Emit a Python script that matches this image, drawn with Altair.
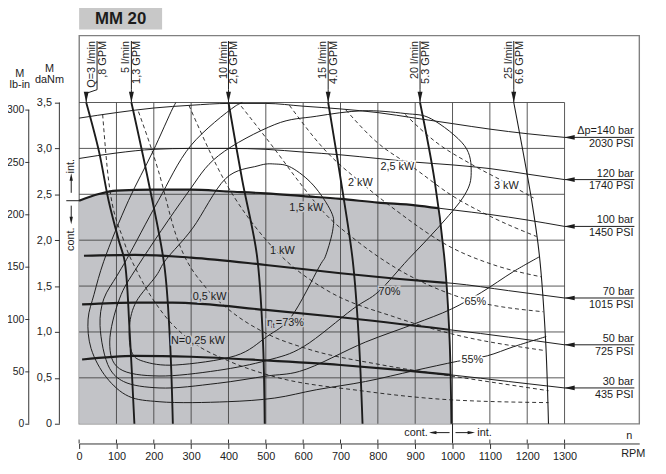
import altair as alt
import numpy as np
import pandas as pd

# ------------------------------------------------------------------ frame
RPM_MAX = 1500      # right edge of the outer frame
T_MAX = 4.23        # top edge of the outer frame (daNm)
LBIN_MAX = 371      # the same edge on the lb-in scale
W, H = 567, 393

RPM_TICKS = list(range(0, 1400, 100))
T_TICKS = [0, 0.5, 1.0, 1.5, 2.0, 2.5, 3.0, 3.5]
LBIN_TICKS = [0, 50, 100, 150, 200, 250, 300]
GRID_RPM = list(range(100, 1400, 100))
GRID_T = [0.5, 1.0, 1.5, 2.0, 2.5, 3.0, 3.5]
GRID_END_RPM = 1300
GRID_END_T = 3.5

# ------------------------------------------------------------------ pressure drop curves
P_TOP = ['Δp=140 bar', '120 bar', '100 bar', '70 bar', '50 bar', '30 bar']
P_BOTTOM = ['2030 PSI', '1740 PSI', '1450 PSI', '1015 PSI', '725 PSI', '435 PSI']
P140_RPM = [0, 100, 200, 300, 400, 500, 600, 700, 800, 900, 1000, 1100, 1200, 1300]
P140_T = [3.33, 3.39, 3.44, 3.47, 3.49, 3.49, 3.46, 3.43, 3.39, 3.33, 3.27, 3.21, 3.16, 3.12]
P120_RPM = [0, 100, 200, 300, 400, 500, 600, 700, 800, 900, 1000, 1100, 1200, 1300]
P120_T = [2.89, 2.95, 2.99, 3.00, 3.00, 2.99, 2.96, 2.93, 2.89, 2.85, 2.82, 2.78, 2.72, 2.66]
P100_RPM = [0, 50, 100, 200, 300, 400, 500, 600, 700, 800, 900, 1000, 1100, 1200, 1300]
P100_T = [2.43, 2.50, 2.54, 2.55, 2.55, 2.53, 2.51, 2.48, 2.45, 2.41, 2.38, 2.33, 2.28, 2.22, 2.15]
P70_RPM = [13, 150, 300, 500, 700, 850, 1000, 1150, 1300]
P70_T = [1.83, 1.84, 1.81, 1.73, 1.64, 1.58, 1.53, 1.45, 1.37]
P50_RPM = [8, 150, 250, 500, 700, 1000, 1300]
P50_T = [1.30, 1.32, 1.32, 1.24, 1.16, 1.02, 0.86]
P30_RPM = [8, 150, 300, 500, 700, 850, 1000, 1150, 1300]
P30_T = [0.70, 0.74, 0.73, 0.69, 0.64, 0.59, 0.53, 0.46, 0.39]
P_POINTER_RPM = [1300, 1487]

# ------------------------------------------------------------------ flow curves
Q_TOP = ['Q=3 l/min', '5 l/min', '10 l/min', '15 l/min', '20 l/min', '25 l/min']
Q_BOTTOM = [',8 GPM', '1,3 GPM', '2,6 GPM', '4.0 GPM', '5.3 GPM', '6.6 GPM']
Q_LABEL_RPM = [48, 140, 400, 667, 913, 1164]
Q_POINTER_T = [4.17, 3.64, 3.60, 3.5]
Q3_RPM = [19, 53, 79, 106, 122, 135, 148]
Q3_T = [3.5, 2.97, 2.43, 2.0, 1.77, 1.03, 0]
Q5_RPM = [140, 185, 228, 243, 251]
Q5_T = [3.5, 2.65, 1.73, 0.93, 0]
Q10_RPM = [400, 437, 476, 492, 497]
Q10_T = [3.5, 2.65, 1.84, 0.93, 0]
Q15_RPM = [667, 701, 733, 749, 759]
Q15_T = [3.5, 2.65, 1.77, 0.93, 0]
Q20_RPM = [913, 952, 979, 992, 997]
Q20_T = [3.5, 2.65, 1.77, 0.93, 0]
Q25_RPM = [1164, 1212, 1233, 1249, 1257]
Q25_T = [3.5, 2.43, 1.82, 0.93, 0]

# ------------------------------------------------------------------ power (dashed)
N025_RPM = [63, 79, 119, 159, 225, 304, 397, 516, 754, 997, 1257]
N025_T = [3.37, 2.65, 2.00, 1.63, 1.20, 0.89, 0.69, 0.52, 0.36, 0.26, 0.23]
N05_RPM = [159, 212, 259, 344, 399, 503, 608, 812, 997, 1257]
N05_T = [3.40, 2.76, 2.06, 1.46, 1.25, 0.98, 0.82, 0.64, 0.52, 0.36]
N1_RPM = [294, 392, 497, 556, 661, 847, 997, 1243]
N1_T = [3.47, 2.63, 2.02, 1.77, 1.46, 1.16, 0.98, 0.80]
N15_RPM = [434, 524, 590, 656, 741, 847, 997, 1243]
N15_T = [3.46, 2.99, 2.63, 2.30, 2.00, 1.70, 1.41, 1.22]
N2_RPM = [563, 661, 754, 847, 997, 1111, 1238]
N2_T = [3.47, 2.97, 2.63, 2.33, 1.92, 1.73, 1.60]
N25_RPM = [714, 794, 899, 997, 1111, 1225]
N25_T = [3.42, 3.08, 2.78, 2.49, 2.24, 2.04]
N3_RPM = [873, 952, 1058, 1146, 1217]
N3_T = [3.37, 3.08, 2.81, 2.62, 2.46]
N_LABELS = ['N=0,25 kW', '0,5 kW', '1 kW', '1,5 kW', '2 kW', '2,5 kW', '3 kW']
N_LABEL_RPM = [246, 304, 511, 563, 720, 807, 1111]
N_LABEL_T = [0.905, 1.378, 1.885, 2.348, 2.628, 2.80, 2.595]

# ------------------------------------------------------------------ efficiency
E73_RPM = [135, 140, 172, 259, 418, 503, 569, 643, 661, 680, 675, 627, 569, 524, 479, 392, 304, 233, 206, 153]
E73_T = [1.07, 0.79, 0.68, 0.64, 0.74, 0.95, 1.17, 1.71, 1.84, 2.13, 2.31, 2.60, 2.79, 2.83, 2.81, 2.67, 2.13, 1.79, 1.61, 1.33]
E70_RPM = [159, 108, 82, 108, 214, 370, 503, 601, 733, 802, 881, 960, 1032, 1050, 1032, 944, 873, 759, 635, 524, 373, 286]
E70_T = [1.73, 1.36, 0.89, 0.60, 0.52, 0.58, 0.69, 0.84, 1.25, 1.44, 1.79, 2.13, 2.49, 2.74, 3.03, 3.32, 3.38, 3.41, 3.35, 3.26, 2.92, 2.49]
E65_RPM = [1233, 1164, 1077, 997, 899, 767, 590, 503, 370, 214, 119, 82, 56, 66, 101, 127, 212, 299, 418, 437]
E65_T = [1.82, 1.66, 1.43, 1.25, 1.09, 0.89, 0.57, 0.52, 0.44, 0.39, 0.46, 0.60, 1.07, 1.36, 1.61, 1.79, 2.43, 3.03, 3.46, 3.50]
E55_RPM = [1251, 1164, 1093, 1013, 899, 767, 635, 524, 397, 214, 132, 74, 32, 24, 40, 66, 132, 198, 251, 259]
E55_T = [0.95, 0.84, 0.74, 0.68, 0.58, 0.46, 0.37, 0.28, 0.24, 0.24, 0.30, 0.50, 0.82, 1.14, 1.41, 1.77, 2.43, 2.97, 3.44, 3.50]
E_LABELS = ['70%', '65%', '55%']
E_LABEL_RPM = [802, 1032, 1024]
E_LABEL_T = [1.432, 1.325, 0.689]
E73_LABEL_RPM = 503
E73_LABEL_T = 1.098

CONT_RPM = 1000

INK = '#1c1c1c'
GRIDC = '#454545'
GREY = '#c2c3c7'
FONT = 'Liberation Sans'
X_AXIS_OFFSET = 20


def ys(t):  # plot pixels, used only to hang annotations on a data value
    return H - t * H / T_MAX


def frame(key, rpm, t):
    return pd.DataFrame({'key': key, 'rpm': list(rpm), 't': list(t), 'i': range(len(rpm))})


XS = alt.Scale(domain=[0, RPM_MAX], nice=False, zero=False)
YS = alt.Scale(domain=[0, T_MAX], nice=False, zero=False)
XAX = alt.Axis(values=RPM_TICKS, offset=X_AXIS_OFFSET, title=None, tickSize=5, labelPadding=2, format='d',
               labelFlush=False, labelOverlap=False)
YAX = alt.Axis(values=T_TICKS, orient='left', offset=20, title=None, domain=False, tickSize=5,
               labelPadding=3,
               labelExpr="datum.value == 0 ? '0' : replace(format(datum.value, '.1f'), '.', ',')")


def X(f='rpm'):
    return alt.X(f + ':Q', scale=XS, axis=XAX)


def Y(f='t'):
    return alt.Y(f + ':Q', scale=YS, axis=YAX)


def curves(df, width, interp, dash=None):
    props = dict(color=INK, strokeWidth=width, interpolate=interp)
    if dash:
        props['strokeDash'] = dash
    return alt.Chart(df).mark_line(**props).encode(x=X(), y=Y(), detail='key:N', order='i:Q')


# where a curve meets the 20 l/min line (edge of the continuous range)
Q20_T_UP, Q20_RPM_UP = Q20_T[::-1], Q20_RPM[::-1]


def edge_point(rpm, t):
    r = 950.0
    for _ in range(12):
        r = float(np.interp(np.interp(r, rpm, t), Q20_T_UP, Q20_RPM_UP))
    return r, float(np.interp(r, rpm, t))


def split(key, rpm, t):
    r, tt = edge_point(rpm, t)
    a = [(x, y) for x, y in zip(rpm, t) if x < r] + [(r, tt)]
    b = [(r, tt)] + [(x, y) for x, y in zip(rpm, t) if x > r]
    return frame(key, *zip(*a)), frame(key, *zip(*b))


# grey continuous-duty area
re_, te_ = edge_point(P100_RPM, P100_T)
area_pts = [(x, y) for x, y in zip(P100_RPM, P100_T) if x < re_] + [(re_, te_)] + \
           [(x, y) for x, y in zip(Q20_RPM, Q20_T) if y < te_]
area = alt.Chart(frame('cont', *zip(*area_pts))).mark_area(color=GREY, interpolate='monotone').encode(
    x=X(), y=Y())

vgrid = alt.Chart(pd.DataFrame({'rpm': GRID_RPM, 'lo': 0, 'hi': GRID_END_T})).mark_rule(
    color=GRIDC, strokeWidth=0.9).encode(x=X(), y=Y('lo'), y2='hi:Q')
hgrid = alt.Chart(pd.DataFrame({'t': GRID_T, 'lo': 0, 'hi': GRID_END_RPM})).mark_rule(
    color=GRIDC, strokeWidth=0.9).encode(y=Y(), x=X('lo'), x2='hi:Q')
danm_line = alt.Chart(pd.DataFrame({'lo': [0], 'hi': [T_TICKS[-1]]})).mark_rule(
    color='#333', strokeWidth=1).encode(x=alt.value(-20), y=Y('lo'), y2='hi:Q')
# the rpm ticks cross the axis line: add their upper half
x_ticks_up = alt.Chart(pd.DataFrame({'rpm': RPM_TICKS})).mark_rule(color='#333', strokeWidth=1).encode(
    x=X(), y=alt.value(H + X_AXIS_OFFSET - 4), y2=alt.value(H + X_AXIS_OFFSET))

# pressure curves
thin_p, thick_p = [frame('140', P140_RPM, P140_T), frame('120', P120_RPM, P120_T)], []
for k, r, t in [('100', P100_RPM, P100_T), ('70', P70_RPM, P70_T),
                ('50', P50_RPM, P50_T), ('30', P30_RPM, P30_T)]:
    a, b = split(k, r, t)
    thick_p.append(a)
    thin_p.append(b)
p_thin = curves(pd.concat(thin_p), 1.0, 'monotone')
p_thick = curves(pd.concat(thick_p), 2.2, 'monotone')

P_END_T = [P140_T[-1], P120_T[-1], P100_T[-1], P70_T[-1], P50_T[-1], P30_T[-1]]
p_lab = pd.DataFrame({'lo': P_POINTER_RPM[0], 'hi': P_POINTER_RPM[1], 'rpm': P_POINTER_RPM[1] - 2,
                      't': P_END_T, 'top': P_TOP, 'bottom': P_BOTTOM})
p_pointer = alt.Chart(p_lab).mark_rule(color=INK, strokeWidth=1).encode(x=X('lo'), x2='hi:Q', y=Y())
p_heads = alt.Chart(p_lab).mark_point(shape='M1,-0.45L1,0.45L-1,0Z', filled=True, size=110,
                                      color=INK, opacity=1, xOffset=5).encode(x=X('lo'), y=Y())
p_top = alt.Chart(p_lab).mark_text(font=FONT, fontSize=11, color=INK, align='right',
                                   baseline='bottom', dy=-1).encode(x=X(), y=Y(), text='top:N')
p_bot = alt.Chart(p_lab).mark_text(font=FONT, fontSize=11, color=INK, align='right',
                                   baseline='top', dy=1).encode(x=X(), y=Y(), text='bottom:N')

# flow curves
Q_RPM = [Q3_RPM, Q5_RPM, Q10_RPM, Q15_RPM, Q20_RPM, Q25_RPM]
Q_T = [Q3_T, Q5_T, Q10_T, Q15_T, Q20_T, Q25_T]
q_thick = curves(pd.concat([frame(Q_TOP[i], Q_RPM[i], Q_T[i]) for i in range(5)]), 1.9, 'catmull-rom')
q_thin = curves(frame(Q_TOP[5], Q_RPM[5], Q_T[5]), 1.1, 'catmull-rom')
q_ptr = pd.concat([frame(Q_TOP[i], [Q_LABEL_RPM[i], Q_LABEL_RPM[i], Q_RPM[i][0], Q_RPM[i][0]], Q_POINTER_T)
                   for i in range(6)])
q_pointer = alt.Chart(q_ptr).mark_line(color=INK, strokeWidth=1).encode(
    x=X(), y=Y(), detail='key:N', order='i:Q')
q_tip = pd.DataFrame({'rpm': [r[0] for r in Q_RPM], 't': [t[0] for t in Q_T]})
q_heads = alt.Chart(q_tip).mark_point(shape='M-0.45,-1L0.45,-1L0,1Z', filled=True, size=121,
                                      color=INK, opacity=1, yOffset=-5.5).encode(x=X(), y=Y())
q_lab = pd.DataFrame({'rpm': Q_LABEL_RPM, 't': Q_POINTER_T[0], 'top': Q_TOP, 'bottom': Q_BOTTOM})
q_top = alt.Chart(q_lab).mark_text(font=FONT, fontSize=11, color=INK, angle=270, align='right',
                                   baseline='bottom').encode(x=X(), y=Y(), text='top:N')
q_bot = alt.Chart(q_lab).mark_text(font=FONT, fontSize=11, color=INK, angle=270, align='right',
                                   baseline='top').encode(x=X(), y=Y(), text='bottom:N')

# power and efficiency curves
n_df = pd.concat([frame(k, r, t) for k, r, t in [
    ('0.25', N025_RPM, N025_T), ('0.5', N05_RPM, N05_T), ('1', N1_RPM, N1_T), ('1.5', N15_RPM, N15_T),
    ('2', N2_RPM, N2_T), ('2.5', N25_RPM, N25_T), ('3', N3_RPM, N3_T)]])
n_lines = curves(n_df, 0.9, 'monotone', dash=[4, 3])
e_closed = curves(pd.concat([frame('73', E73_RPM, E73_T), frame('70', E70_RPM, E70_T)]), 1.0,
                  'cardinal-closed')
e_open = curves(pd.concat([frame('65', E65_RPM, E65_T), frame('55', E55_RPM, E55_T)]), 1.0,
                'catmull-rom')


def in_grey(r, t):
    return t < np.interp(r, P100_RPM, P100_T) and r < np.interp(t, Q20_T_UP, Q20_RPM_UP)


def labels(s, rpm, t, **kw):
    df = pd.DataFrame({'s': s, 'rpm': rpm, 't': t})
    df['bg'] = [GREY if in_grey(r, v) else 'white' for r, v in zip(rpm, t)]
    base = dict(font=FONT, fontSize=kw.pop('fontSize', 11), align='left', baseline='middle', **kw)
    halo = alt.Chart(df).mark_text(strokeWidth=3, **base).encode(
        x=X(), y=Y(), text='s:N', stroke=alt.Stroke('bg:N', scale=None), color=alt.Color('bg:N', scale=None))
    txt = alt.Chart(df).mark_text(color=INK, **base).encode(x=X(), y=Y(), text='s:N')
    return [halo, txt]


lab_layers = labels(N_LABELS, N_LABEL_RPM, N_LABEL_T) + labels(E_LABELS, E_LABEL_RPM, E_LABEL_T) + \
    labels(['η'], [E73_LABEL_RPM], [E73_LABEL_T]) + \
    labels(['t'], [E73_LABEL_RPM], [E73_LABEL_T], dx=6, dy=3, fontSize=7) + \
    labels(['=73%'], [E73_LABEL_RPM], [E73_LABEL_T], dx=9)

# ------------------------------------------------------------------ annotations
one = pd.DataFrame({'a': [0]})


def a_rule(x, x2, y, y2, w=1.0):
    return alt.Chart(one).mark_rule(color=INK, strokeWidth=w).encode(
        x=alt.value(x), x2=alt.value(x2), y=alt.value(y), y2=alt.value(y2))


def a_text(s, x, y, **kw):
    props = dict(font=FONT, fontSize=11, color=INK)
    props.update(kw)
    return alt.Chart(pd.DataFrame({'s': [s]})).mark_text(**props).encode(
        x=alt.value(x), y=alt.value(y), text='s:N')


def a_head(x, y, shape, size=56):
    return alt.Chart(one).mark_point(shape=shape, filled=True, size=size, color=INK, opacity=1).encode(
        x=alt.value(x), y=alt.value(y))


UP, DOWN = 'M-0.45,1L0.45,1L0,-1Z', 'M-0.45,-1L0.45,-1L0,1Z'
LEFT, RIGHT = 'M1,-0.45L1,0.45L-1,0Z', 'M-1,-0.45L-1,0.45L1,0Z'
y0 = ys(P100_T[0])
xc = CONT_RPM * W / RPM_MAX
notes = [
    alt.Chart(one).mark_rect(color='#c8c8c8').encode(
        x=alt.value(0), x2=alt.value(84), y=alt.value(-28), y2=alt.value(-6)),
    a_text('MM 20', 42, -17, fontSize=17, fontWeight='bold', align='center', baseline='middle'),
    a_text('M', -60, 39, align='center'), a_text('lb-in', -60, 50, align='center'),
    a_text('M', -30, 34, align='center'), a_text('daNm', -30, 45, align='center'),
    # int. / cont. marker on the left
    a_rule(-13, 0, y0, y0),
    a_rule(-8, -8, y0 - 8, y0 - 24), a_head(-8, y0 - 24, UP),
    a_text('int.', -8, y0 - 35, angle=270, align='center', baseline='middle'),
    a_rule(-8, -8, y0 + 5, y0 + 20), a_head(-8, y0 + 20, DOWN),
    a_text('cont.', -8, y0 + 39, angle=270, align='center', baseline='middle'),
    # cont. / int. marker under the plot
    a_rule(xc, xc, H, H + 19),
    a_text('cont.', xc - 25, H + 9, align='right', baseline='middle'),
    a_rule(xc - 22, xc - 3, H + 9, H + 9), a_head(xc - 20, H + 9, LEFT),
    a_rule(xc + 3, xc + 20, H + 9, H + 9), a_head(xc + 19, H + 9, RIGHT),
    a_text('int.', xc + 25, H + 9, align='left', baseline='middle'),
    a_text('n', 557, H + 12, align='center', baseline='middle'),
    a_text('RPM', 561, H + 31, align='center', baseline='middle'),
]

main = alt.layer(
    area, vgrid, hgrid, danm_line, x_ticks_up, n_lines, e_closed, e_open, p_thin, p_thick, q_thick, q_thin,
    q_pointer, q_heads, p_pointer, p_heads, *lab_layers, q_top, q_bot, p_top, p_bot, *notes
)

lbin = alt.Chart(pd.DataFrame({'lo': [0], 'hi': [LBIN_TICKS[-1]]})).mark_rule(
    color='#333', strokeWidth=1).encode(
    x=alt.value(-51),
    y=alt.Y('lo:Q', scale=alt.Scale(domain=[0, LBIN_MAX], nice=False, zero=False),
            axis=alt.Axis(values=LBIN_TICKS, orient='left', offset=51, title=None, domain=False,
                          tickSize=4, labelPadding=1, labelFontSize=10.5)),
    y2='hi:Q')

chart = alt.layer(main, lbin).resolve_scale(y='independent').properties(
    width=W, height=H,
    autosize=alt.AutoSizeParams(type='none'),
    padding={'left': 72, 'top': 25, 'right': 19, 'bottom': 45},
).configure_view(
    stroke='#808080', strokeWidth=1.4
).configure_axis(
    labelFont=FONT, labelFontSize=11, labelColor='#222', domainColor='#333', tickColor='#333', grid=False
)

chart.save('out.html', embed_options={'renderer': 'svg', 'actions': False})
